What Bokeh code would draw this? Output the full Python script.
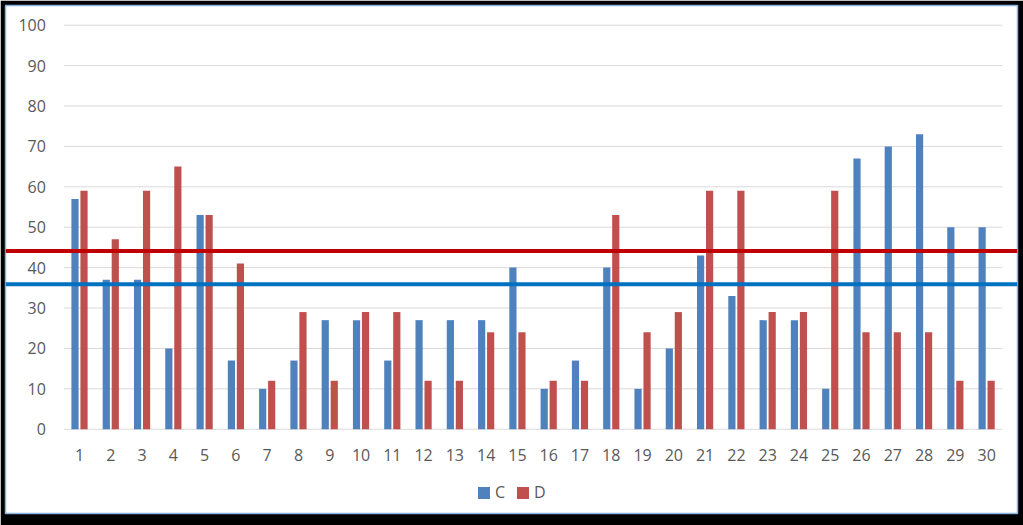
from bokeh.plotting import figure
from bokeh.models import Range1d, Span, Legend, LegendItem, ColumnDataSource
from bokeh.core.properties import value
from bokeh.embed import file_html
from bokeh.resources import INLINE
import numpy as np

categories = list(range(1, 31))
series_c = [57, 37, 37, 20, 53, 17, 10, 17, 27, 27, 17, 27, 27, 27, 40,
            10, 17, 40, 10, 20, 43, 33, 27, 27, 10, 67, 70, 73, 50, 50]
series_d = [59, 47, 59, 65, 53, 41, 12, 29, 12, 29, 29, 12, 12, 24, 24,
            12, 12, 53, 24, 29, 59, 59, 29, 29, 59, 24, 24, 24, 12, 12]
y_ticks = list(range(0, 101, 10))
y_tick_labels = [str(t) for t in y_ticks]
x_tick_labels = [str(c) for c in categories]
red_threshold = 44.1
blue_threshold = 35.9

BLUE = "#4F81BD"
RED = "#C0504D"
TEXT = "#595959"
GRID = "#D9D9D9"
FONT = value("Open Sans")

p = figure(width=1023, height=525, output_backend="svg", toolbar_location=None,
           x_range=Range1d(-1.366, 30.987), y_range=Range1d(-20.85, 104.87),
           x_axis_location=None, y_axis_location=None,
           min_border_left=5, min_border_right=6, min_border_top=5, min_border_bottom=12,
           border_fill_color="black", background_fill_color="white",
           outline_line_color="#8DB4E2", outline_line_width=1.5)
p.xgrid.visible = False
p.ygrid.visible = False

cats = np.array(categories, dtype=float)
off = 0.144
bw = 0.23

# gridlines over the plot area only
grid_src = ColumnDataSource(dict(x0=[0.5] * len(y_ticks), x1=[30.5] * len(y_ticks),
                                 y=y_ticks, lab=y_tick_labels))
p.segment(x0="x0", x1="x1", y0="y", y1="y", source=grid_src, line_color=GRID, line_width=1)

rc = p.vbar(x=cats - off, top=series_c, width=bw, bottom=0, fill_color=BLUE, line_color=None)
rd = p.vbar(x=cats + off, top=series_d, width=bw, bottom=0, fill_color=RED, line_color=None)

# y tick labels
p.text(x="x0", y="y", text="lab", source=grid_src, x_offset=-18,
       text_align="right", text_baseline="middle", text_font=FONT,
       text_font_size="16px", text_color=TEXT)
# x tick labels
p.text(x=cats, y=[0] * len(cats), text=x_tick_labels, y_offset=26,
       text_align="center", text_baseline="middle", text_font=FONT,
       text_font_size="16px", text_color=TEXT)

p.add_layout(Span(location=red_threshold, dimension="width", line_color="#C00000", line_width=4))
p.add_layout(Span(location=blue_threshold, dimension="width", line_color="#0070C0", line_width=4))

legend = Legend(items=[LegendItem(label="C", renderers=[rc]), LegendItem(label="D", renderers=[rd])],
                orientation="horizontal", location=(471, 10), padding=0, margin=0,
                border_line_color=None, background_fill_alpha=0,
                glyph_width=15, glyph_height=15, label_standoff=4, spacing=8,
                label_width=12, label_height=15, label_text_font="Open Sans",
                label_text_font_size="16px",
                label_text_color=TEXT, label_text_baseline="middle")
p.add_layout(legend)

open("out.html", "w").write(file_html(p, INLINE))
